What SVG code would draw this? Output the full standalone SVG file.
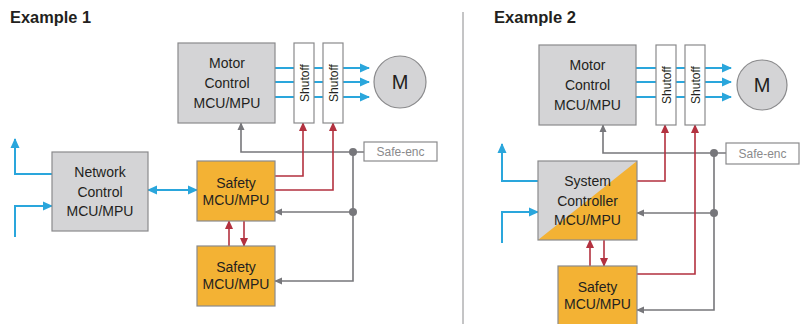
<svg xmlns="http://www.w3.org/2000/svg" width="806" height="324" viewBox="0 0 806 324">
<defs>
<style>
.t{font-family:"Liberation Sans",Arial,sans-serif;fill:#231f20;text-anchor:middle}
.box{font-size:14px}
.title{font-family:"Liberation Sans",Arial,sans-serif;font-weight:bold;font-size:17px;fill:#231f20}
.gray{fill:#d4d4d6;stroke:#8a8a8c;stroke-width:1.2}
.org{fill:#f3b234;stroke:#8a8a8c;stroke-width:1.2}
.sh{fill:#fff;stroke:#8a8a8c;stroke-width:1.2}
.bl{fill:none;stroke:#2aa6dc;stroke-width:2}
.rd{fill:none;stroke:#b3313f;stroke-width:1.6}
.gy{fill:none;stroke:#77777b;stroke-width:1.6}
.sht{font-family:"Liberation Sans",Arial,sans-serif;font-size:12px;fill:#231f20;text-anchor:middle}
.se{font-family:"Liberation Sans",Arial,sans-serif;font-size:12px;fill:#8a8a8c;text-anchor:middle}
</style>
<marker id="ab" markerWidth="10" markerHeight="10" refX="9" refY="5" orient="auto-start-reverse" markerUnits="userSpaceOnUse" viewBox="0 0 10 10"><path d="M0,0.5 L10,5 L0,9.5 z" fill="#2aa6dc"/></marker>
<marker id="ar" markerWidth="9" markerHeight="9" refX="9" refY="5" orient="auto" markerUnits="userSpaceOnUse" viewBox="0 0 10 10"><path d="M0,0.5 L10,5 L0,9.5 z" fill="#b3313f"/></marker>
<marker id="ag" markerWidth="8" markerHeight="8" refX="9" refY="5" orient="auto" markerUnits="userSpaceOnUse" viewBox="0 0 10 10"><path d="M0,0.5 L10,5 L0,9.5 z" fill="#77777b"/></marker>
</defs>
<rect width="806" height="324" fill="#fff"/>
<text class="title" x="10" y="23" textLength="81" lengthAdjust="spacingAndGlyphs">Example 1</text>
<text class="title" x="494" y="23" textLength="82" lengthAdjust="spacingAndGlyphs">Example 2</text>
<line x1="463" y1="12" x2="463" y2="324" stroke="#8a8a8c" stroke-width="1"/>

<g id="connectors">
<!-- Example 1 -->
<path class="bl" d="M275,68 H369" marker-end="url(#ab)"/>
<path class="bl" d="M275,82 H369" marker-end="url(#ab)"/>
<path class="bl" d="M275,97 H369" marker-end="url(#ab)"/>
<path class="bl" d="M52,174 H15 V139" marker-end="url(#ab)"/>
<path class="bl" d="M15,237 V206 H52" marker-end="url(#ab)"/>
<path class="bl" d="M148,190 H197" marker-start="url(#ab)" marker-end="url(#ab)"/>
<path class="gy" d="M364,152 H241 V123" marker-end="url(#ag)"/>
<path class="gy" d="M353,152 V281 H275" marker-end="url(#ag)"/>
<path class="gy" d="M353,212 H275" marker-end="url(#ag)"/>
<circle cx="353" cy="152" r="4" fill="#77777b"/>
<circle cx="353" cy="212" r="4" fill="#77777b"/>
<path class="rd" d="M275,176 H303 V123" marker-end="url(#ar)"/>
<path class="rd" d="M275,190 H333 V123" marker-end="url(#ar)"/>
<path class="rd" d="M229,246 V221" marker-end="url(#ar)"/>
<path class="rd" d="M244,221 V246" marker-end="url(#ar)"/>
<!-- Example 2 -->
<path class="bl" d="M636,68 H731" marker-end="url(#ab)"/>
<path class="bl" d="M636,82 H731" marker-end="url(#ab)"/>
<path class="bl" d="M636,97 H731" marker-end="url(#ab)"/>
<path class="bl" d="M538,181 H502 V144" marker-end="url(#ab)"/>
<path class="bl" d="M502,243 V212 H538" marker-end="url(#ab)"/>
<path class="gy" d="M726,153 H603 V125" marker-end="url(#ag)"/>
<path class="gy" d="M714,153 V310 H637" marker-end="url(#ag)"/>
<path class="gy" d="M714,213 H637" marker-end="url(#ag)"/>
<circle cx="714" cy="153" r="4" fill="#77777b"/>
<circle cx="714" cy="213" r="4" fill="#77777b"/>
<path class="rd" d="M637,181 H665 V125" marker-end="url(#ar)"/>
<path class="rd" d="M637,274 H695 V125" marker-end="url(#ar)"/>
<path class="rd" d="M590,266 V240" marker-end="url(#ar)"/>
<path class="rd" d="M604,240 V266" marker-end="url(#ar)"/>
</g>

<!-- Example 1 nodes -->
<g id="motor1">
<rect class="gray" x="178" y="43" width="97" height="80"/>
<text class="t box" x="227" y="68">Motor</text>
<text class="t box" x="227" y="88">Control</text>
<text class="t box" x="227" y="108">MCU/MPU</text>
</g>
<g id="shutoff1a">
<rect class="sh" x="294" y="43" width="20" height="80"/>
<text class="sht" transform="translate(308.5,83) rotate(-90)">Shutoff</text>
</g>
<g id="shutoff1b">
<rect class="sh" x="323" y="43" width="20" height="80"/>
<text class="sht" transform="translate(337.5,83) rotate(-90)">Shutoff</text>
</g>
<g id="motorM1">
<circle cx="400" cy="82" r="26" fill="#d4d4d6" stroke="#8a8a8c" stroke-width="1.2"/>
<text class="t" x="400" y="89" font-size="20">M</text>
</g>
<g id="safeenc1">
<rect x="364" y="142" width="73" height="19" fill="#fff" stroke="#8a8a8c" stroke-width="1.2"/>
<text class="se" x="400.5" y="156">Safe-enc</text>
</g>
<g id="network1">
<rect class="gray" x="52" y="152" width="96" height="79"/>
<text class="t box" x="100" y="177">Network</text>
<text class="t box" x="100" y="197">Control</text>
<text class="t box" x="100" y="216">MCU/MPU</text>
</g>
<g id="safety1a">
<rect class="org" x="197" y="161" width="78" height="60"/>
<text class="t box" x="236" y="188">Safety</text>
<text class="t box" x="236" y="205">MCU/MPU</text>
</g>
<g id="safety1b">
<rect class="org" x="197" y="246" width="78" height="60"/>
<text class="t box" x="236" y="272">Safety</text>
<text class="t box" x="236" y="289">MCU/MPU</text>
</g>

<!-- Example 2 nodes -->
<g id="motor2">
<rect class="gray" x="539" y="45" width="97" height="80"/>
<text class="t box" x="587.5" y="70">Motor</text>
<text class="t box" x="587.5" y="90">Control</text>
<text class="t box" x="587.5" y="110">MCU/MPU</text>
</g>
<g id="shutoff2a">
<rect class="sh" x="656" y="45" width="20" height="80"/>
<text class="sht" transform="translate(670.5,85) rotate(-90)">Shutoff</text>
</g>
<g id="shutoff2b">
<rect class="sh" x="685" y="45" width="20" height="80"/>
<text class="sht" transform="translate(699.5,85) rotate(-90)">Shutoff</text>
</g>
<g id="motorM2">
<circle cx="762" cy="85" r="25" fill="#d4d4d6" stroke="#8a8a8c" stroke-width="1.2"/>
<text class="t" x="762" y="92" font-size="20">M</text>
</g>
<g id="safeenc2">
<rect x="726" y="143" width="73" height="21" fill="#fff" stroke="#8a8a8c" stroke-width="1.2"/>
<text class="se" x="762.5" y="158">Safe-enc</text>
</g>
<g id="system2">
<rect x="538" y="161" width="99" height="79" fill="#f3b234"/>
<polygon points="538,161 637,161 538,240" fill="#d4d4d6"/>
<rect x="538" y="161" width="99" height="79" fill="none" stroke="#8a8a8c" stroke-width="1.2"/>
<text class="t box" x="587.5" y="186">System</text>
<text class="t box" x="587.5" y="206">Controller</text>
<text class="t box" x="587.5" y="225">MCU/MPU</text>
</g>
<g id="safety2">
<rect class="org" x="558" y="266" width="79" height="62"/>
<text class="t box" x="597.5" y="292">Safety</text>
<text class="t box" x="597.5" y="309">MCU/MPU</text>
</g>
</svg>
